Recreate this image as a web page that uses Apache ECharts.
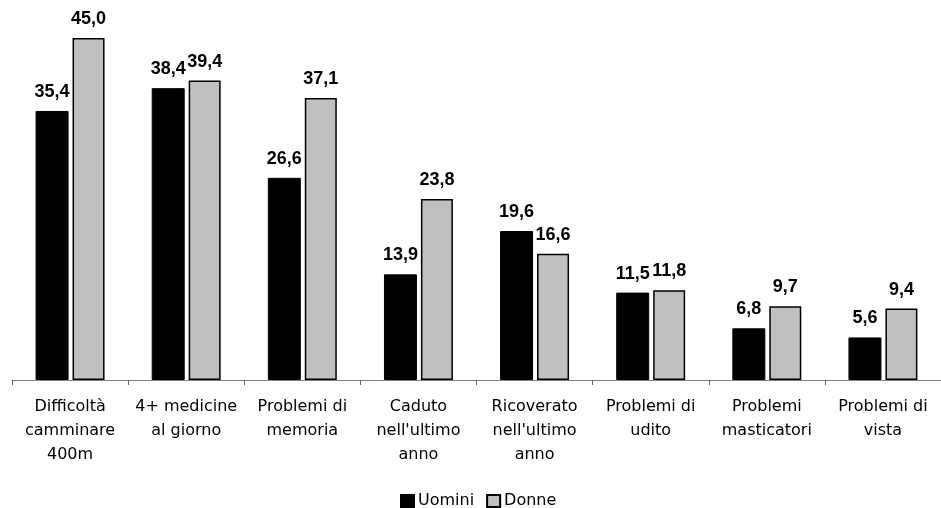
<!DOCTYPE html>
<html>
<head>
<meta charset="utf-8">
<script src="https://cdn.jsdelivr.net/npm/echarts@6/dist/echarts.min.js"></script>
<style>html,body{margin:0;padding:0;background:#fff;}#c{width:941px;height:508px;}</style>
</head>
<body>
<div id="c"></div>
<script>
var categories = ["Difficoltà\ncamminare\n400m", "4+ medicine\nal giorno", "Problemi di\nmemoria", "Caduto\nnell'ultimo\nanno", "Ricoverato\nnell'ultimo\nanno", "Problemi di\nudito", "Problemi\nmasticatori", "Problemi di\nvista"];
var uomini = [35.4, 38.4, 26.6, 13.9, 19.6, 11.5, 6.8, 5.6];
var donne = [45.0, 39.4, 37.1, 23.8, 16.6, 11.8, 9.7, 9.4];

var chart = echarts.init(document.getElementById('c'));
var fmt = function (p) { return p.value.toFixed(1).replace('.', ','); };
var labelStyle = {
  show: true, position: 'top', distance: 10, formatter: fmt,
  fontFamily: 'Liberation Sans, Arial, sans-serif', fontWeight: 'bold', fontSize: 18, color: '#000'
};
chart.setOption({
  animation: false,
  grid: { left: 12, top: 0, width: 937, height: 380 },
  legend: {
    data: ['Uomini', 'Donne'], left: 400, top: 493, padding: 0,
    itemWidth: 13, itemHeight: 12, itemGap: 12, icon: 'rect',
    textStyle: { fontFamily: 'DejaVu Sans, sans-serif', fontSize: 16, color: '#000', padding: [0, 0, 0, -1] }
  },
  xAxis: {
    type: 'category', data: categories,
    axisLine: { lineStyle: { color: '#808080', width: 1 } },
    axisTick: { show: true, length: 5, lineStyle: { color: '#606060' } },
    axisLabel: { interval: 0, margin: 15, fontFamily: 'DejaVu Sans, sans-serif', fontSize: 16, lineHeight: 24, color: '#000' }
  },
  yAxis: { type: 'value', min: 0, max: 50, show: false, splitLine: { show: false } },
  series: [
    { name: 'Uomini', type: 'bar', data: uomini, barWidth: 33, barGap: '12%',
      itemStyle: { color: '#000', borderColor: '#000', borderWidth: 1 }, label: labelStyle },
    { name: 'Donne', type: 'bar', data: donne, barWidth: 32,
      itemStyle: { color: '#c0c0c0', borderColor: '#000', borderWidth: 1.5 }, label: labelStyle }
  ]
});
</script>
</body>
</html>
